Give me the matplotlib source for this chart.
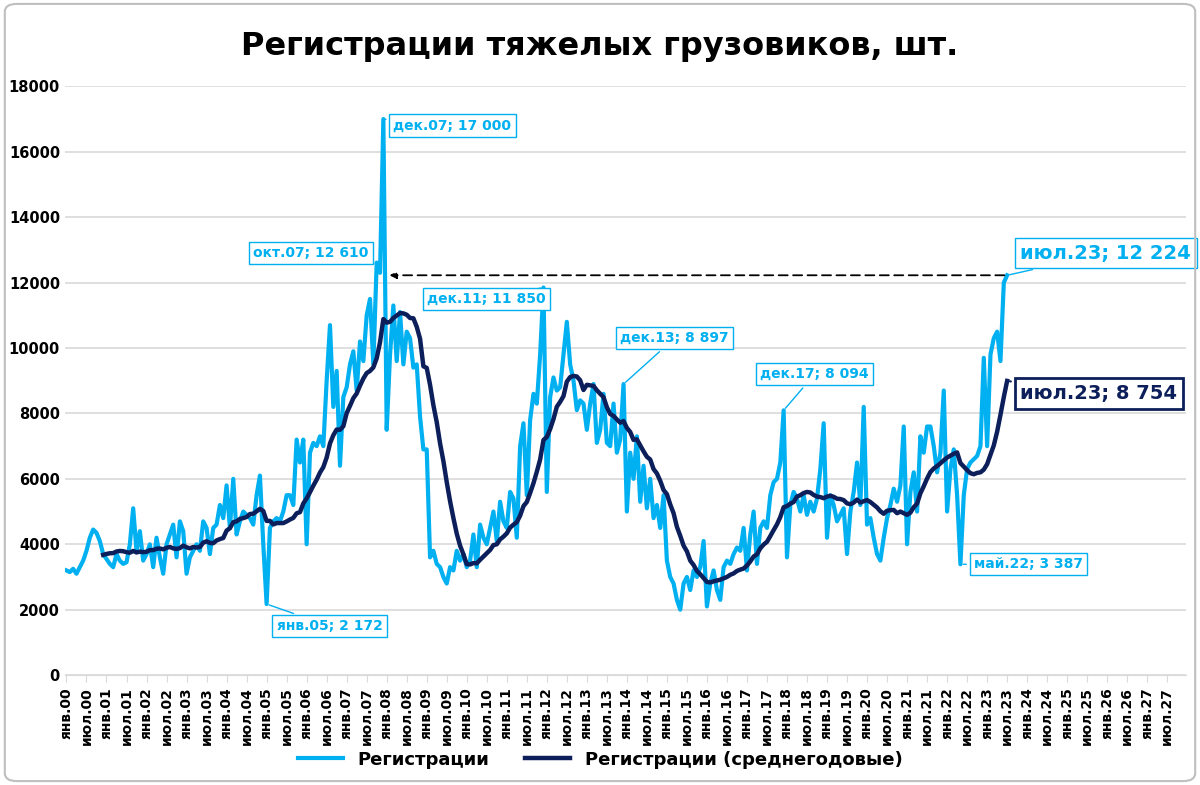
import matplotlib
matplotlib.use("Agg")
import matplotlib.pyplot as plt
import numpy as np
import pandas as pd
from matplotlib.patches import FancyBboxPatch

plt.rcParams["font.family"] = "DejaVu Sans"

years = list(range(2000, 2024))
reg = [
    3200,3150,3250,3100,3300,3500,3800,4200,4450,4350,4100,3700,
    3550,3400,3300,3700,3500,3400,3450,4000,5100,3800,4400,3500,
    3700,4000,3300,4200,3600,3100,4000,4300,4600,3600,4700,4400,
    3100,3600,3800,4000,3800,4700,4500,3700,4500,4600,5200,4800,
    5800,4500,6000,4300,4700,5000,4900,4800,4600,5500,6100,4000,
    2172,4500,4700,4800,4700,5000,5500,5500,5200,7200,6500,7200,
    4000,6800,7100,7000,7300,7000,9000,10700,8200,9300,6400,8500,
    8800,9500,9900,8700,10200,9600,11000,11500,9500,12610,12300,17000,
    7500,9800,11300,9600,11100,9500,10500,10300,9400,9500,7900,6900,
    6900,3600,3800,3400,3300,3000,2800,3300,3200,3800,3500,3700,
    3300,3500,4300,3300,4600,4200,4000,4500,5000,4100,5300,4700,
    4500,5600,5400,4200,7000,7700,5500,7800,8600,8300,9800,11850,
    5600,8500,9100,8700,8800,9800,10800,9500,9000,8100,8400,8300,
    7500,8300,8900,7100,7500,8600,7100,7000,8300,6800,7200,8897,
    5000,6800,6000,7300,5300,6400,5100,6000,4800,5200,4500,5500,
    3500,3000,2800,2300,2000,2800,3000,2600,3200,3000,3300,4100,
    2100,2800,3200,2600,2300,3300,3500,3400,3700,3900,3800,4500,
    3200,4300,5000,3400,4500,4700,4500,5500,5900,6000,6500,8094,
    3600,5200,5600,5400,5000,5500,4900,5300,5000,5400,6300,7700,
    4200,5500,5200,4700,4900,5100,3700,5000,5600,6500,5200,8200,
    4600,4800,4200,3700,3500,4200,4800,5200,5700,5300,5800,7600,
    4000,5600,6200,5000,7300,6800,7600,7600,7000,6200,6800,8700,
    5000,6300,6900,5500,3387,5500,6300,6500,6600,6700,7000,9700,
    7000,9800,10300,10500,9600,12000,12224,
]
avg = pd.Series(reg, dtype=float).rolling(12).mean().to_numpy()

months = ["янв", "июл"]
tick_labels = [f"{m}.{y % 100:02d}" for y in range(2000, 2028) for m in months]
x = np.arange(len(reg))

fig = plt.figure(figsize=(12, 7.85), dpi=100)
fig.patches.append(FancyBboxPatch((0.004, 0.005), 0.992, 0.99, boxstyle="round,pad=0,rounding_size=0.01",
                                  transform=fig.transFigure, fill=False, edgecolor="#BFBFBF", linewidth=1.5))
ax = fig.add_axes([0.054, 0.14, 0.934, 0.75])
ax.plot(x, reg, color="#00B0F0", lw=3, label="Регистрации", zorder=3)
ax.plot(x, avg, color="#0C1F5B", lw=3.2, label="Регистрации (среднегодовые)", zorder=4)

ax.set_ylim(0, 18000)
ax.set_xlim(-0.5, 335.5)
ax.set_yticks(range(0, 18001, 2000))
ax.set_yticklabels([str(v) for v in range(0, 18001, 2000)], fontweight="bold", fontsize=10.5)
ax.set_xticks(np.arange(0, 331, 6))
ax.set_xticklabels(tick_labels[:len(np.arange(0, 331, 6))], rotation=90, fontweight="bold", fontsize=10)
ax.grid(axis="y", color="#D9D9D9", lw=1.2)
ax.set_axisbelow(True)
for s in ["top", "right", "left"]:
    ax.spines[s].set_visible(False)
ax.spines["bottom"].set_color("#D9D9D9")
ax.tick_params(axis="y", length=0)
ax.tick_params(axis="x", color="#D9D9D9", length=5)

fig.suptitle("Регистрации тяжелых грузовиков, шт.", fontsize=23, fontweight="bold", y=0.96)

def ann(i, text, xt, yt, color="#00B0F0", fs=10):
    ax.annotate(text, xy=(i, reg[i]), xytext=(xt, yt),
                fontsize=fs, fontweight="bold", color=color, ha="left", va="center",
                bbox=dict(boxstyle="square,pad=0.3", fc="white", ec=color, lw=1),
                arrowprops=dict(arrowstyle="-", color=color, lw=1), zorder=6)

ann(95, "дек.07; 17 000", 98, 16800)
ann(93, "окт.07; 12 610", 56, 12900)
ann(143, "дек.11; 11 850", 108, 11500)
ann(167, "дек.13; 8 897", 166, 10300)
ann(215, "дек.17; 8 094", 208, 9200)
ann(60, "янв.05; 2 172", 63, 1500)
ann(268, "май.22; 3 387", 272, 3400)
ann(282, "июл.23; 12 224", 286, 12900, fs=14)
ax.annotate("июл.23; 8 754", xy=(282, avg[282]), xytext=(286, 8600), fontsize=14, fontweight="bold",
            color="#0C1F5B", ha="left", va="center",
            bbox=dict(boxstyle="square,pad=0.3", fc="white", ec="#0C1F5B", lw=2),
            arrowprops=dict(arrowstyle="-", color="#0C1F5B", lw=1.5), zorder=6)
ax.annotate("", xy=(96, 12224), xytext=(282, 12224),
            arrowprops=dict(arrowstyle="-|>", ls=(0, (5, 3)), color="black", lw=1.3), zorder=5)

fig.legend(loc="lower center", ncol=2, frameon=False, bbox_to_anchor=(0.5, 0.0),
           prop={"weight": "bold", "size": 13}, handlelength=2.5)
fig.savefig("out.png", dpi=100)
